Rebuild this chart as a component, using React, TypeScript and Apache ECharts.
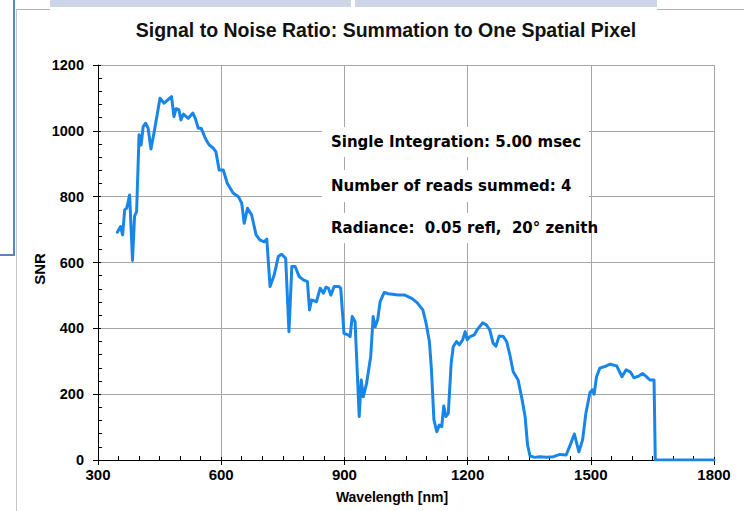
import { useEffect, useRef } from "react";
import * as echarts from "echarts";

const wavelength = [
  347, 355, 360, 365, 370, 377, 384, 389, 394, 400, 405, 410, 416, 422, 429, 437, 451, 461, 479, 485,
  490, 497, 502, 508, 520, 531, 537, 544, 551, 563, 571, 581, 587, 595, 605, 615, 629, 642, 650, 656,
  664, 674, 685, 694, 705, 711, 719, 729, 739, 747, 757, 765, 772, 780, 790, 800, 810, 815, 820, 832,
  841, 849, 855, 861, 867, 875, 886, 891, 899, 909, 914, 919, 926, 936, 941, 946, 954, 964, 970, 975,
  981, 987, 997, 1007, 1031, 1047, 1064, 1077, 1091, 1099, 1107, 1112, 1118, 1125, 1131, 1137, 1142, 1147, 1153, 1160,
  1165, 1173, 1180, 1188, 1194, 1199, 1206, 1216, 1224, 1237, 1246, 1254, 1262, 1269, 1277, 1287, 1295, 1303, 1311, 1323,
  1332, 1340, 1346, 1352, 1364, 1376, 1392, 1409, 1425, 1440, 1450, 1460, 1471, 1480, 1488, 1498, 1504, 1508, 1514, 1522,
  1534, 1547, 1563, 1576, 1586, 1596, 1605, 1617, 1626, 1634, 1644, 1654, 1657, 1800,
];

const snr = [
  692, 709, 684, 760, 765, 805, 606, 740, 755, 988, 957, 1013, 1023, 1008, 945, 998, 1099, 1084, 1104, 1043,
  1067, 1064, 1033, 1051, 1038, 1054, 1038, 1008, 1008, 973, 957, 947, 937, 881, 881, 840, 811, 800, 780, 719,
  765, 745, 684, 669, 663, 671, 527, 562, 618, 625, 613, 390, 588, 588, 557, 547, 542, 456, 486, 481,
  522, 507, 525, 522, 501, 527, 527, 522, 385, 380, 375, 436, 420, 132, 243, 192, 233, 314, 436, 405,
  426, 481, 509, 505, 501, 501, 491, 478, 456, 415, 360, 274, 122, 86, 106, 101, 164, 132, 142, 294,
  344, 360, 350, 365, 390, 365, 375, 380, 397, 417, 410, 395, 355, 346, 377, 375, 360, 319, 268, 243,
  188, 132, 46, 12, 8, 10, 8, 10, 17, 15, 46, 79, 25, 61, 142, 205, 213, 200, 253, 279,
  284, 291, 286, 253, 274, 268, 250, 255, 263, 255, 243, 243, 0, 0,
];

const titleText = "Signal to Noise Ratio: Summation to One Spatial Pixel";
const xTitle = "Wavelength [nm]";
const yTitle = "SNR";
const notes = [
  "Single Integration: 5.00 msec",
  "Number of reads summed: 4",
  "Radiance:  0.05 refl,  20\u00b0 zenith",
];

const X_MIN = 300;
const X_MAX = 1800;
const X_STEP = 300;
const Y_MIN = 0;
const Y_MAX = 1200;
const Y_STEP = 200;

export default function App() {
  const ref = useRef<HTMLDivElement>(null);

  useEffect(() => {
    if (!ref.current) return;
    const chart = echarts.init(ref.current, null, { renderer: "svg" });
    const labelFont = { fontFamily: "Liberation Sans", fontWeight: "bold" as const, color: "#000" };
    const noteTops = [127, 170, 213];
    const noteHeights = [30, 32, 30];
    const plain = (v: number) => String(v);

    const option: any = {
      animation: false,
      backgroundColor: "#fff",
      title: {
        text: titleText,
        left: 381,
        top: 15,
        textAlign: "center",
        textStyle: { fontFamily: "Liberation Sans", fontWeight: "bold", fontSize: 19.5, color: "#111" },
      },
      grid: { left: 98, right: 30, top: 65, bottom: 51, containLabel: false },
      xAxis: [
        {
          type: "value",
          min: X_MIN,
          max: X_MAX,
          interval: X_STEP,
          position: "bottom",
          axisLine: { show: true, onZero: false, lineStyle: { color: "#000", width: 1 } },
          axisTick: { show: true, inside: false, length: 5, lineStyle: { color: "#000" } },
          axisLabel: { ...labelFont, fontSize: 15, margin: 7, formatter: plain },
          splitLine: { show: true, lineStyle: { color: "#a6a6a6", width: 1 } },
        },
        {
          type: "value",
          min: X_MIN,
          max: X_MAX,
          interval: X_STEP,
          position: "bottom",
          axisLine: { show: false, onZero: false },
          axisTick: { show: true, inside: true, length: 3, lineStyle: { color: "#000" } },
          minorTick: { show: true, splitNumber: 6, length: 4, lineStyle: { color: "#000" } },
          axisLabel: { show: false },
          splitLine: { show: false },
        },
      ],
      yAxis: [
        {
          type: "value",
          min: Y_MIN,
          max: Y_MAX,
          interval: Y_STEP,
          position: "left",
          axisLine: { show: true, onZero: false, lineStyle: { color: "#000", width: 1 } },
          axisTick: { show: true, inside: false, length: 5, lineStyle: { color: "#000" } },
          axisLabel: { ...labelFont, fontSize: 14.5, margin: 14, formatter: plain },
          splitLine: { show: true, lineStyle: { color: "#a6a6a6", width: 1 } },
        },
        {
          type: "value",
          min: Y_MIN,
          max: Y_MAX,
          interval: Y_STEP,
          position: "left",
          axisLine: { show: false, onZero: false },
          axisTick: { show: true, inside: true, length: 3, lineStyle: { color: "#000" } },
          minorTick: { show: true, splitNumber: 5, length: 4, lineStyle: { color: "#000" } },
          axisLabel: { show: false },
          splitLine: { show: false },
        },
      ],
      series: [
        {
          type: "line",
          xAxisIndex: 0,
          yAxisIndex: 0,
          data: wavelength.map((w, i) => [w, snr[i]]),
          showSymbol: false,
          symbol: "none",
          lineStyle: { color: "#1786e8", width: 3, join: "round", cap: "round" },
          z: 5,
        },
      ],
      graphic: [
        { type: "rect", shape: { x: 50, y: 0, width: 301, height: 7 }, style: { fill: "#cdd6e6" }, z: 1 },
        { type: "rect", shape: { x: 355, y: 0, width: 302, height: 7 }, style: { fill: "#cdd6e6" }, z: 1 },
        { type: "line", shape: { x1: 16, y1: 9.5, x2: 50, y2: 9.5 }, style: { stroke: "#b4b4b4", lineWidth: 1 }, z: 1 },
        { type: "line", shape: { x1: 657, y1: 9.5, x2: 744, y2: 9.5 }, style: { stroke: "#b4b4b4", lineWidth: 1 }, z: 1 },
        { type: "line", shape: { x1: 16.5, y1: 9, x2: 16.5, y2: 511 }, style: { stroke: "#c4c4c4", lineWidth: 1 }, z: 1 },
        { type: "line", shape: { x1: 14, y1: 0, x2: 14, y2: 255 }, style: { stroke: "#5a86c4", lineWidth: 2 }, z: 2 },
        { type: "line", shape: { x1: 0, y1: 255, x2: 15, y2: 255 }, style: { stroke: "#5a86c4", lineWidth: 2 }, z: 2 },
        ...notes.map((_, i) => ({
          type: "rect",
          shape: { x: 322, y: noteTops[i], width: 267, height: noteHeights[i] },
          style: { fill: "#fff" },
          z: 10,
        })),
        ...notes.map((t, i) => ({
          type: "text",
          x: 331,
          y: noteTops[i] + noteHeights[i] / 2,
          style: {
            text: t,
            fontFamily: "DejaVu Sans",
            fontWeight: "bold",
            fontSize: 15,
            fill: "#000",
            verticalAlign: "middle",
          },
          z: 11,
        })),
        {
          type: "text",
          x: 39,
          y: 269,
          rotation: Math.PI / 2,
          style: {
            text: yTitle,
            fontFamily: "Liberation Sans",
            fontWeight: "bold",
            fontSize: 15,
            fill: "#000",
            align: "center",
            verticalAlign: "middle",
          },
          z: 11,
        },
        {
          type: "text",
          x: 392,
          y: 497,
          style: {
            text: xTitle,
            fontFamily: "Liberation Sans",
            fontWeight: "bold",
            fontSize: 14,
            fill: "#000",
            align: "center",
            verticalAlign: "middle",
          },
          z: 11,
        },
      ],
    };

    chart.setOption(option);
    return () => chart.dispose();
  }, []);

  return <div ref={ref} style={{ position: "fixed", left: 0, top: 0, width: 744, height: 511 }} />;
}
